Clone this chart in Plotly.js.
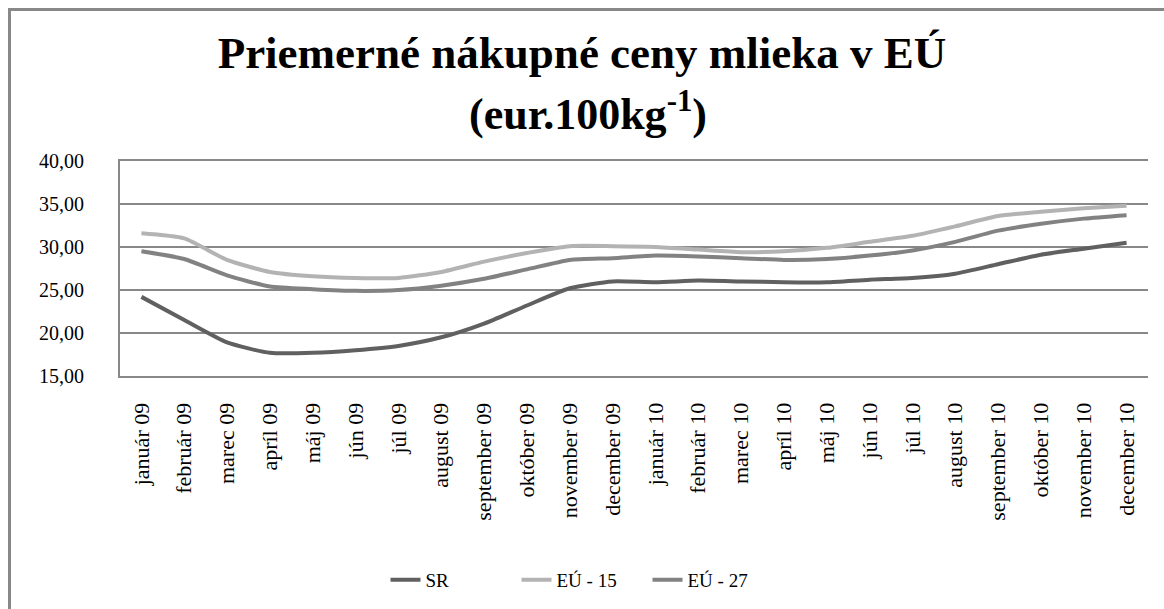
<!DOCTYPE html>
<html>
<head>
<meta charset="utf-8">
<script src="https://cdn.plot.ly/plotly-3.0.1.min.js"></script>
<style>
html,body{margin:0;padding:0;background:#fff;}
#wrap{position:relative;width:1164px;height:609px;overflow:hidden;}
#chart{position:absolute;left:0;top:0;width:1164px;height:609px;}
#frame{position:absolute;left:8px;top:8px;width:3000px;height:3000px;border-left:3px solid #888;border-top:3px solid #888;pointer-events:none;}
</style>
</head>
<body>
<div id="wrap"><div id="chart"></div><div id="frame"></div></div>
<script>
const months = ["január 09","február 09","marec 09","apríl 09","máj 09","jún 09","júl 09","august 09","september 09","október 09","november 09","december 09",
                "január 10","február 10","marec 10","apríl 10","máj 10","jún 10","júl 10","august 10","september 10","október 10","november 10","december 10"];
const sr   = [24.2,21.5,18.9,17.7,17.7,18.0,18.5,19.5,21.1,23.2,25.2,26.0,25.9,26.1,26.0,25.9,25.9,26.2,26.4,26.9,28.0,29.1,29.8,30.5];
const eu15 = [31.6,31.0,28.5,27.1,26.6,26.4,26.4,27.1,28.3,29.3,30.1,30.1,30.0,29.7,29.4,29.5,29.9,30.6,31.3,32.4,33.6,34.1,34.5,34.8];
const eu27 = [29.5,28.6,26.7,25.4,25.1,24.9,25.0,25.5,26.3,27.4,28.5,28.7,29.0,28.9,28.7,28.5,28.6,29.0,29.6,30.6,31.9,32.7,33.3,33.7];
const seriesNames = ["SR","EÚ - 15","EÚ - 27"];
const yTicks = [15,20,25,30,35,40];
const titleLine1 = "Priemerné nákupné ceny mlieka v EÚ";
const titleLine2 = "(eur.100kg<sup>-1</sup>)";

const font = "Liberation Serif, Times New Roman, serif";
const mk = (name, y, color) => ({
  type: "scatter", mode: "lines", name: name, x: months, y: y,
  line: {color: color, width: 4, shape: "spline", smoothing: 0.6},
  hoverinfo: "x+y+name"
});
const data = [
  mk(seriesNames[0], sr, "#606060"),
  mk(seriesNames[1], eu15, "#b3b3b3"),
  mk(seriesNames[2], eu27, "#828282")
];
const plotTop = 161, plotBottom = 376;
const layout = {
  width: 1164, height: 609,
  paper_bgcolor: "#fff", plot_bgcolor: "#fff",
  margin: {l: 120, r: 16, t: plotTop, b: 609 - plotBottom},
  separators: ", ",
  font: {family: font, color: "#000"},
  title: {
    text: "<b>" + titleLine1 + "</b>",
    font: {family: font, size: 45, color: "#000"},
    x: 0.5, xref: "container", xanchor: "center",
    y: 1 - 52/609, yref: "container", yanchor: "middle"
  },
  annotations: [{
    text: "<b>" + titleLine2 + "</b>",
    font: {family: font, size: 44, color: "#000"},
    x: (588 - 120) / (1148 - 120), xref: "paper", xanchor: "center",
    y: (plotBottom - 111) / (plotBottom - plotTop), yref: "paper", yanchor: "middle",
    showarrow: false
  }],
  xaxis: {
    type: "category", range: [-0.5, 23.5],
    tickangle: -90, tickfont: {family: font, size: 22, color: "#000"},
    showgrid: false, showline: true, linecolor: "#888", linewidth: 2, mirror: true,
    ticks: "", ticklabelstandoff: 16, fixedrange: true
  },
  yaxis: {
    range: [15, 40], tickvals: yTicks, tickformat: ".2f",
    tickfont: {family: font, size: 20, color: "#000"},
    showgrid: true, gridcolor: "#888", gridwidth: 1.2,
    showline: true, linecolor: "#888", linewidth: 2,
    zeroline: false, ticks: "", ticklabelstandoff: 30, fixedrange: true
  },
  showlegend: true,
  legend: {
    orientation: "h", x: 0.5, xref: "container", xanchor: "center",
    y: 1 - 580/609, yref: "container", yanchor: "middle",
    font: {family: font, size: 19, color: "#000"},
    entrywidth: 86, entrywidthmode: "pixels",
    bgcolor: "rgba(0,0,0,0)"
  }
};
Plotly.newPlot("chart", data, layout, {displayModeBar: false, staticPlot: true});
</script>
</body>
</html>
